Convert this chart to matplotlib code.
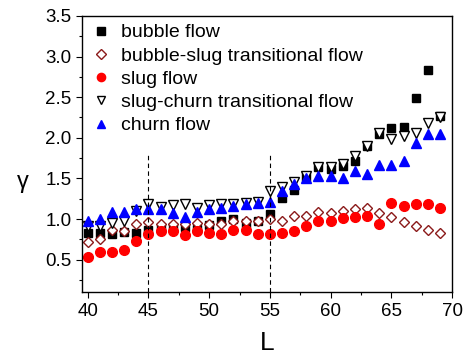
import numpy as np
import matplotlib.pyplot as plt
from matplotlib.ticker import MultipleLocator

plt.rcParams['font.family'] = ['Liberation Sans', 'DejaVu Sans']

L = np.arange(40, 70)

bubble = [0.83, 0.83, 0.81, 0.84, 0.83, 0.87, 0.88, 0.90, 0.90, 0.88,
          0.93, 0.97, 1.00, 0.95, 0.98, 1.06, 1.26, 1.36, 1.52, 1.64,
          1.62, 1.65, 1.72, 1.90, 2.05, 2.12, 2.13, 2.49, 2.83, 2.27]
bubble_slug = [0.72, 0.75, 0.86, 0.85, 0.94, 0.96, 0.94, 0.94, 0.94, 0.95,
               0.94, 0.94, 0.97, 0.97, 0.97, 1.00, 0.98, 1.04, 1.04, 1.09,
               1.07, 1.10, 1.12, 1.14, 1.08, 1.03, 0.96, 0.92, 0.87, 0.83]
slug = [0.53, 0.60, 0.60, 0.62, 0.73, 0.81, 0.85, 0.85, 0.80, 0.85,
        0.83, 0.81, 0.87, 0.86, 0.81, 0.81, 0.83, 0.85, 0.91, 0.97,
        0.98, 1.01, 1.02, 1.04, 0.94, 1.20, 1.16, 1.19, 1.19, 1.14]
slug_churn = [0.91, 0.91, 0.95, 0.97, 1.10, 1.18, 1.15, 1.17, 1.19, 1.14,
              1.17, 1.18, 1.19, 1.20, 1.21, 1.35, 1.40, 1.45, 1.53, 1.64,
              1.64, 1.68, 1.77, 1.90, 2.06, 1.99, 2.02, 2.06, 2.18, 2.26]
churn = [0.98, 1.00, 1.09, 1.09, 1.12, 1.12, 1.12, 1.07, 1.03, 1.09,
         1.12, 1.13, 1.16, 1.18, 1.20, 1.21, 1.34, 1.43, 1.50, 1.53,
         1.53, 1.50, 1.59, 1.55, 1.67, 1.66, 1.72, 1.93, 2.05, 2.05]

fig = plt.figure(figsize=(4.72, 3.62), dpi=100)
ax = fig.add_axes([0.174, 0.193, 0.784, 0.763])

ax.plot(L, bubble, 's', color='black', ms=6, label='bubble flow')
ax.plot(L, bubble_slug, 'D', mfc='white', mec='#8B1A1A', mew=1.0, ms=5.5,
        label='bubble-slug transitional flow')
ax.plot(L, slug, 'o', color='#FF0000', ms=7, label='slug flow')
ax.plot(L, slug_churn, 'v', mfc='white', mec='black', mew=1.0, ms=7.5,
        label='slug-churn transitional flow')
ax.plot(L, churn, '^', color='#0000FF', ms=7.5, label='churn flow')

# regime boundaries
ax.vlines([45, 55], 0.1, 1.8, colors='black', linestyles=(0, (4, 3)), lw=0.8)

ax.set_xlim(39.55, 70)
ax.set_ylim(0.1, 3.5)
ax.xaxis.set_major_locator(MultipleLocator(5))
ax.xaxis.set_minor_locator(MultipleLocator(2.5))
ax.yaxis.set_major_locator(MultipleLocator(0.5))
ax.yaxis.set_minor_locator(MultipleLocator(0.25))
ax.tick_params(which='major', direction='out', length=4, width=0.8, labelsize=13.5)
ax.tick_params(which='minor', direction='out', length=2.5, width=0.8)
ax.set_xticks([40, 45, 50, 55, 60, 65, 70])
for s in ax.spines.values():
    s.set_linewidth(1.0)

ax.set_xlabel('L', fontsize=19, labelpad=8)
ax.set_ylabel('γ', fontsize=17, rotation=0, va='center')
ax.yaxis.set_label_coords(-0.16, 0.40)

ax.legend(loc='upper left', frameon=False, fontsize=14, handletextpad=0.5,
          borderaxespad=0.2, labelspacing=0.29, handlelength=1.1,
          borderpad=0.2, markerscale=0.85)

fig.savefig('out.png', dpi=100)
